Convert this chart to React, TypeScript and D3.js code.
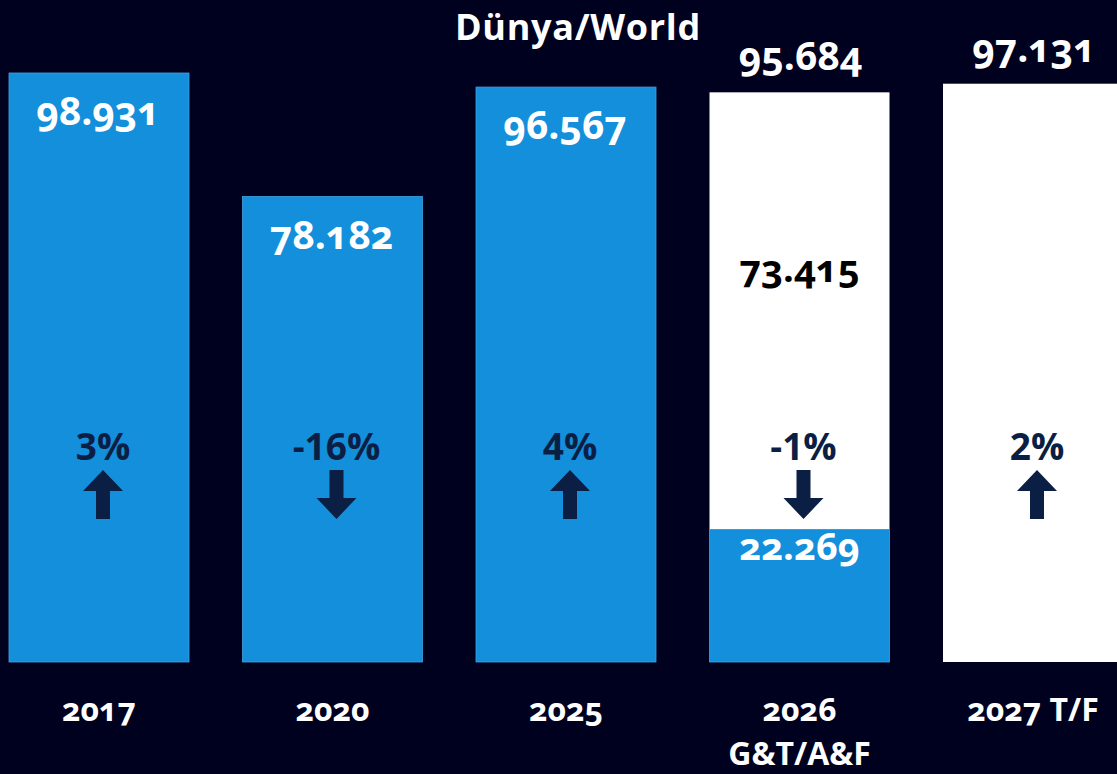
import React, { useEffect, useRef } from "react";
import * as d3 from "d3";

// Dünya/World chart values
const categories = ["2017", "2020", "2025", "2026", "2027"];
const categoryLabels = [["2017"], ["2020"], ["2025"], ["2026", "G&T/A&F"], ["2027 T/F"]];
const blueValues = [98931, 78182, 96567, 22269, 0];
const whiteValues = [0, 0, 0, 73415, 97131];
const changes = [3, -16, 4, -1, 2];
const changeLabels = ["3%", "-16%", "4%", "-1%", "2%"];

const theme = {
  background: "#00001f",
  blue: "#138fdc",
  white: "#ffffff",
  arrow: "#0b1f45",
  text: "#ffffff",
  dark: "#000000",
  fontFamily: "'Open Sans', 'Lato', sans-serif",
};

const App = () => {
  const svgRef = useRef<SVGSVGElement | null>(null);

  useEffect(() => {
    document.body.style.margin = "0";
    const width = 1117;
    const height = 774;
    const baseY = 662;

    const svg = d3.select(svgRef.current).attr("width", width).attr("height", height);
    svg.selectAll("*").remove();

    svg.append("rect").attr("width", width).attr("height", height).attr("fill", theme.background);

    const x = d3.scaleBand<string>().domain(categories).range([9, 1123]).paddingInner(0.2291).paddingOuter(0);
    const y = d3.scaleLinear().domain([0, 98931]).range([baseY, 73]);
    const bw = x.bandwidth();
    const fmt = d3.formatLocale({ decimal: ",", thousands: ".", grouping: [3], currency: ["", ""] }).format(",");

    const rows = categories.map((c, i) => ({
      c,
      blue: blueValues[i],
      white: whiteValues[i],
      total: blueValues[i] + whiteValues[i],
      change: changes[i],
      changeLabel: changeLabels[i],
      lines: categoryLabels[i],
    }));

    const txt = (sel: any) =>
      sel
        .style("font-family", theme.fontFamily)
        .style("font-weight", "700")
        .style("font-variant-numeric", "oldstyle-nums")
        .attr("text-anchor", "middle");

    // Title
    svg
      .append("text")
      .attr("x", 578)
      .attr("y", 40)
      .attr("fill", theme.text)
      .style("font-size", "36px")
      .style("letter-spacing", "0.7px")
      .call(txt)
      .text("Dünya/World");

    // White (upper) segments
    svg
      .selectAll(".white-bar")
      .data(rows.filter((d) => d.white > 0))
      .enter()
      .append("rect")
      .attr("x", (d) => x(d.c)!)
      .attr("y", (d) => y(d.total))
      .attr("width", bw)
      .attr("height", (d) => y(d.blue) - y(d.total))
      .attr("fill", theme.white);

    // Blue (lower) segments
    svg
      .selectAll(".blue-bar")
      .data(rows.filter((d) => d.blue > 0))
      .enter()
      .append("rect")
      .attr("x", (d) => x(d.c)!)
      .attr("y", (d) => y(d.blue))
      .attr("width", bw)
      .attr("height", (d) => baseY - y(d.blue))
      .attr("fill", theme.blue)
      .attr("stroke", "#3fa3e3")
      .attr("stroke-width", 0.8);

    const cx = (d: any) => x(d.c)! + bw / 2;

    // Value labels in blue-only bars
    svg
      .selectAll(".blue-only-label")
      .data(rows.filter((d) => d.white === 0))
      .enter()
      .append("text")
      .attr("x", (d) => cx(d) - 1)
      .attr("y", (d) => y(d.blue) + 52)
      .attr("fill", theme.text)
      .style("font-size", "39px")
      .call(txt)
      .text((d) => fmt(d.blue));

    // Totals above stacked / forecast bars
    svg
      .selectAll(".total-label")
      .data(rows.filter((d) => d.white > 0))
      .enter()
      .append("text")
      .attr("x", (d) => cx(d) + 1)
      .attr("y", (d) => y(d.total) - 22)
      .attr("fill", theme.text)
      .style("font-size", "39px")
      .call(txt)
      .text((d) => fmt(d.total));

    // White segment label (only where a blue part exists below)
    svg
      .selectAll(".white-seg-label")
      .data(rows.filter((d) => d.white > 0 && d.blue > 0))
      .enter()
      .append("text")
      .attr("x", cx)
      .attr("y", (d) => y(d.total) + 190)
      .attr("fill", theme.dark)
      .style("font-size", "38px")
      .call(txt)
      .text((d) => fmt(d.white));

    // Blue segment label
    svg
      .selectAll(".blue-seg-label")
      .data(rows.filter((d) => d.white > 0 && d.blue > 0))
      .enter()
      .append("text")
      .attr("x", cx)
      .attr("y", (d) => y(d.blue) + 31)
      .attr("fill", theme.text)
      .style("font-size", "38px")
      .call(txt)
      .text((d) => fmt(d.blue));

    // Change percentages
    svg
      .selectAll(".change-label")
      .data(rows)
      .enter()
      .append("text")
      .attr("x", (d) => cx(d) + 4)
      .attr("y", 460)
      .attr("fill", theme.arrow)
      .style("font-size", "37px")
      .call(txt)
      .style("font-variant-numeric", "normal")
      .text((d) => d.changeLabel);

    // Arrows
    const top = 470;
    const bottom = 519;
    const headH = 21;
    const headW = 20;
    const shaftW = 7;
    const arrowPath = (d: any) => {
      const c = cx(d) + 4;
      if (d.change >= 0) {
        return `M${c},${top} L${c + headW},${top + headH} L${c + shaftW},${top + headH} L${c + shaftW},${bottom} L${c - shaftW},${bottom} L${c - shaftW},${top + headH} L${c - headW},${top + headH} Z`;
      }
      return `M${c},${bottom} L${c + headW},${bottom - headH} L${c + shaftW},${bottom - headH} L${c + shaftW},${top} L${c - shaftW},${top} L${c - shaftW},${bottom - headH} L${c - headW},${bottom - headH} Z`;
    };
    svg.selectAll(".arrow").data(rows).enter().append("path").attr("d", arrowPath).attr("fill", theme.arrow);

    // Category labels
    const cat = svg
      .selectAll(".cat-label")
      .data(rows)
      .enter()
      .append("text")
      .attr("x", cx)
      .attr("y", 721)
      .attr("fill", theme.text)
      .style("font-size", "32px")
      .call(txt);
    cat
      .selectAll("tspan")
      .data((d) => d.lines.map((l) => ({ l, x: cx(d) })))
      .enter()
      .append("tspan")
      .attr("x", (t) => t.x)
      .attr("dy", (t, i) => (i === 0 ? 0 : 44))
      .text((t) => t.l);
  }, []);

  return <svg ref={svgRef} style={{ display: "block" }}></svg>;
};

export default App;
